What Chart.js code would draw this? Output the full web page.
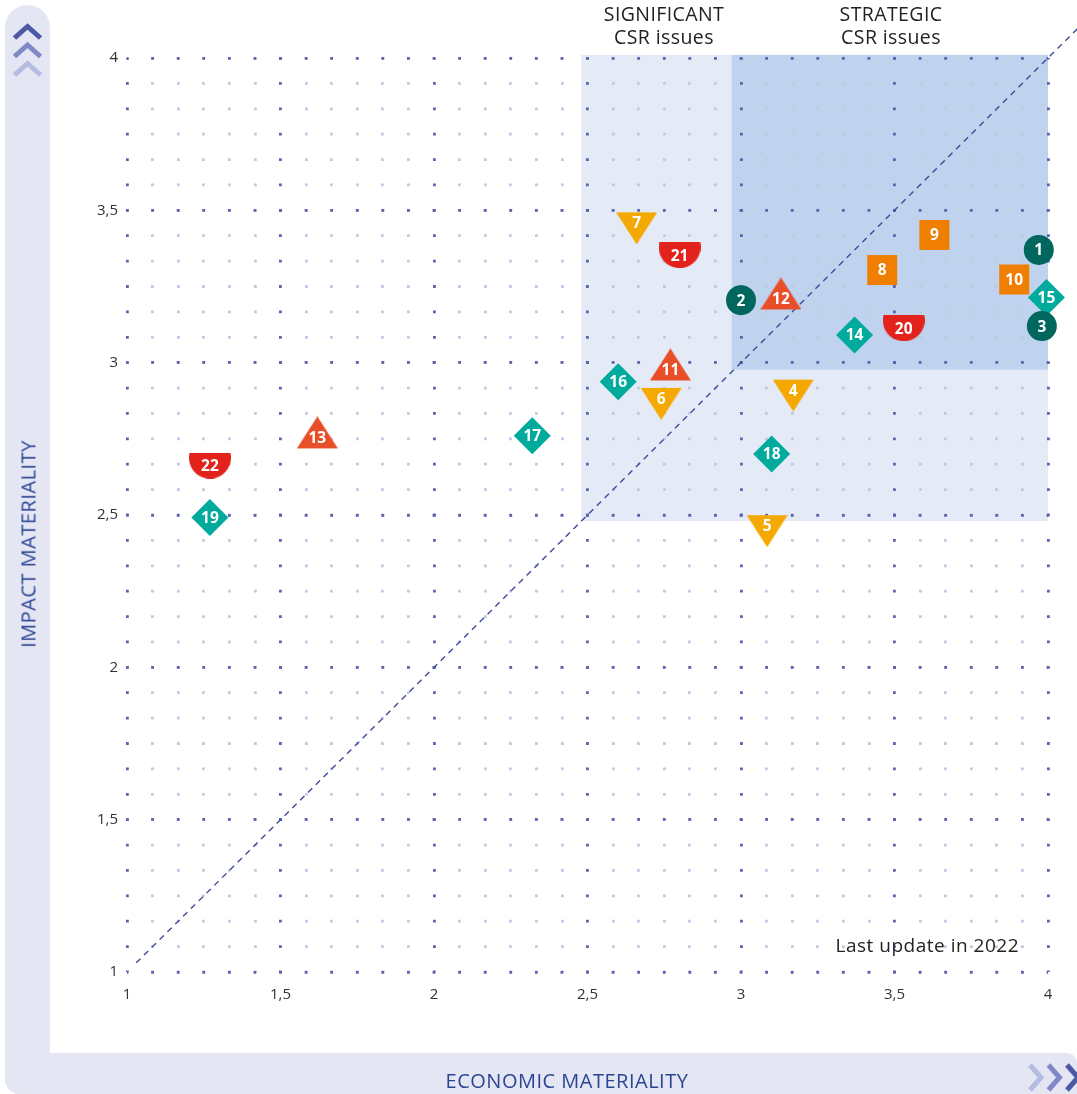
<!DOCTYPE html>
<html>
<head>
<meta charset="utf-8">
<title>CSR materiality matrix</title>
<script src="https://cdn.jsdelivr.net/npm/chart.js@4.4.1/dist/chart.umd.min.js"></script>
<style>
  html, body { margin: 0; padding: 0; background: #fff; }
  #wrap { position: relative; width: 1077px; height: 1094px; overflow: hidden; font-family: 'Open Sans', sans-serif; }
  .band { position: absolute; background: #e4e6f4; }
  #bandLeft { left: 5px; top: 5px; width: 45px; height: 1089px; border-radius: 23px 23px 0 15px; }
  #bandBottom { left: 5px; top: 1053px; width: 1072px; height: 41px; border-radius: 0 10px 0 15px; }
  #matrix { position: absolute; left: 0; top: 0; }
  .arrows { position: absolute; left: 0; top: 0; }
  .axisTitle { position: absolute; color: #2b4593; font-size: 20px; white-space: nowrap; letter-spacing: 0.5px; }
  #yTitle { left: 28px; top: 544px; transform: translate(-50%, -50%) rotate(-90deg); }
  #xTitle { left: 567px; top: 1080px; transform: translate(-50%, -50%); }
  .zoneLabel { position: absolute; top: 2px; transform: translateX(-50%); text-align: center; color: #222; font-size: 19.5px; letter-spacing: 0.4px; line-height: 23px; white-space: nowrap; }
  #lastUpdate { position: absolute; right: 58px; top: 932px; color: #222; font-size: 19px; letter-spacing: 0.5px; line-height: 26px; white-space: nowrap; }
</style>
</head>
<body>
<div id="wrap">
  <div class="band" id="bandLeft"></div>
  <div class="band" id="bandBottom"></div>
  <svg class="arrows" width="1077" height="1094" viewBox="0 0 1077 1094">
    <g fill="none" stroke-width="5" stroke-linejoin="miter">
      <polyline points="14.5,38 27.5,26.5 40.5,38" stroke="#4d59a7"/>
      <polyline points="14.5,56.5 27.5,45 40.5,56.5" stroke="#8088c6"/>
      <polyline points="14.5,75 27.5,63.5 40.5,75" stroke="#b6bbe0"/>
      <polyline points="1030,1065 1041,1077.5 1030,1090" stroke="#b6bbe0"/>
      <polyline points="1048.5,1065 1059.5,1077.5 1048.5,1090" stroke="#8088c6"/>
      <polyline points="1067,1065 1078,1077.5 1067,1090" stroke="#4d59a7"/>
    </g>
  </svg>
  <canvas id="matrix" width="1077" height="1094"></canvas>
  <div class="axisTitle" id="yTitle">IMPACT MATERIALITY</div>
  <div class="axisTitle" id="xTitle">ECONOMIC MATERIALITY</div>
  <div class="zoneLabel" style="left:664px">SIGNIFICANT<br>CSR issues</div>
  <div class="zoneLabel" style="left:891px">STRATEGIC<br>CSR issues</div>
  <div id="lastUpdate">Last update in 2022</div>
</div>
<script>
// issues
const issueIds = [1, 2, 3, 4, 5, 6, 7, 8, 9, 10, 11, 12, 13, 14, 15, 16, 17, 18, 19, 20, 21, 22];
const economic = [3.97, 3.00, 3.98, 3.17, 3.085, 2.74, 2.66, 3.46, 3.63, 3.89, 2.77, 3.13, 1.62, 3.37, 3.995, 2.60, 2.32, 3.10, 1.27, 3.53, 2.80, 1.27];
const impact = [3.37, 3.205, 3.12, 2.91, 2.465, 2.883, 3.459, 3.304, 3.419, 3.273, 2.976, 3.209, 2.753, 3.091, 3.214, 2.937, 2.760, 2.700, 2.492, 3.113, 3.353, 2.662];
const issueGroup = ['circle', 'circle', 'circle', 'down', 'down', 'down', 'down', 'square', 'square', 'square',
  'up', 'up', 'up', 'diamond', 'diamond', 'diamond', 'diamond', 'diamond', 'diamond', 'half', 'half', 'half'];

const tickLabels = ['1', '1,5', '2', '2,5', '3', '3,5', '4'];

// shaded zones: significant, strategic
const zoneXFrom = [2.48, 2.97];
const zoneYFrom = [2.48, 2.977];
const zoneXTo = [4, 4];
const zoneYTo = [4.01, 4.01];

const diagonal = [{ x: 1.03, y: 1.03 }, { x: 4.1, y: 4.1 }];

const DOT_DARK = '#5a63ad';
const DOT_LIGHT = '#c3c7e5';
const ZONE_COLORS = ['#e4ebf7', '#bfd3ee'];

function triangleCanvas(color, down) {
    const w = 41, h = 32, c = document.createElement('canvas');
    c.width = w;
    c.height = 43;
    const ctx = c.getContext('2d');
    ctx.fillStyle = color;
    ctx.beginPath();
    if (down) {
        ctx.moveTo(0, 11); ctx.lineTo(w, 11); ctx.lineTo(w / 2, 11 + h);
    } else {
        ctx.moveTo(w / 2, 0); ctx.lineTo(w, h); ctx.lineTo(0, h);
    }
    ctx.closePath();
    ctx.fill();
    return c;
}

function bowlCanvas(color) {
    const c = document.createElement('canvas');
    c.width = 42;
    c.height = 26;
    const ctx = c.getContext('2d');
    const a = Math.asin(5 / 21);
    ctx.fillStyle = color;
    ctx.beginPath();
    ctx.arc(21, 5, 21, -a, Math.PI + a, false);
    ctx.closePath();
    ctx.fill();
    return c;
}

const groupStyle = {
    circle: { color: '#00675f', pointStyle: 'circle', radius: 15 },
    down: { color: '#f5a800', pointStyle: triangleCanvas('#f5a800', true), radius: 20 },
    square: { color: '#f07e00', pointStyle: 'rect', radius: 21.2 },
    up: { color: '#e84f28', pointStyle: triangleCanvas('#e84f28', false), radius: 20 },
    diamond: { color: '#00aa9d', pointStyle: 'rectRot', radius: 18.5 },
    half: { color: '#e3231b', pointStyle: bowlCanvas('#e3231b'), radius: 20 }
};

const isHalf = v => Math.abs(v * 2 - Math.round(v * 2)) < 1e-6;

function tickText(value) {
    if (!isHalf(value)) return '';
    return tickLabels[Math.round((value - 1) * 2)] ?? '';
}

const markerSets = Object.keys(groupStyle).map(g => {
    const idx = issueIds.map((id, i) => i).filter(i => issueGroup[i] === g);
    const st = groupStyle[g];
    return {
        label: g,
        data: idx.map(i => ({ x: economic[i], y: impact[i] })),
        ids: idx.map(i => issueIds[i]),
        pointStyle: st.pointStyle,
        pointRadius: st.radius,
        pointHoverRadius: st.radius,
        backgroundColor: st.color,
        borderWidth: 0,
        clip: false,
        order: 1
    };
});

const zonesPlugin = {
    id: 'zones',
    beforeDraw(chart) {
        const { ctx, scales: { x, y } } = chart;
        ctx.save();
        zoneXFrom.forEach((x0, i) => {
            const left = x.getPixelForValue(x0), right = x.getPixelForValue(zoneXTo[i]);
            const top = y.getPixelForValue(zoneYTo[i]), bottom = y.getPixelForValue(zoneYFrom[i]);
            ctx.fillStyle = ZONE_COLORS[i];
            ctx.fillRect(left, top, right - left, bottom - top);
        });
        ctx.restore();
    }
};

const idLabelsPlugin = {
    id: 'idLabels',
    afterDatasetsDraw(chart) {
        const ctx = chart.ctx;
        ctx.save();
        ctx.fillStyle = '#ffffff';
        ctx.font = "bold 15.5px 'Open Sans', sans-serif";
        ctx.textAlign = 'center';
        ctx.textBaseline = 'middle';
        chart.data.datasets.forEach((ds, di) => {
            if (!ds.ids) return;
            chart.getDatasetMeta(di).data.forEach((pt, i) => {
                ctx.fillText(String(ds.ids[i]), pt.x, pt.y + 1);
            });
        });
        ctx.restore();
    }
};

// dot grid spacing: chart area is 921 x 914 px, dots every 1/12
const stepX = 921 / 36, stepY = 914 / 36, dot = 2.8;
const tickFont = { family: "'Open Sans', sans-serif", size: 15 };

new Chart(document.getElementById('matrix'), {
    type: 'scatter',
    data: {
        datasets: [
            ...markerSets,
            {
                type: 'line',
                label: 'diagonal',
                data: diagonal,
                borderColor: '#3d4b9b',
                borderWidth: 1.4,
                borderDash: [6, 5],
                pointRadius: 0,
                clip: false,
                order: 10
            }
        ]
    },
    options: {
        responsive: false,
        animation: false,
        events: [],
        layout: { padding: { left: 67, right: 29, top: 58, bottom: 82 } },
        plugins: {
            legend: { display: false },
            tooltip: { enabled: false }
        },
        scales: {
            x: {
                type: 'linear',
                min: 1,
                max: 4,
                afterFit: s => { s.height = 40; },
                ticks: {
                    stepSize: 1 / 12,
                    autoSkip: false,
                    maxRotation: 0,
                    padding: 14,
                    color: '#333',
                    font: tickFont,
                    callback: tickText
                },
                grid: {
                    drawTicks: false,
                    z: -1,
                    lineWidth: dot,
                    color: c => (c.tick && isHalf(c.tick.value)) ? DOT_DARK : DOT_LIGHT
                },
                border: { display: false, dash: [dot, stepY - dot], dashOffset: dot / 2 }
            },
            y: {
                type: 'linear',
                min: 1,
                max: 4,
                afterFit: s => { s.width = 60; },
                ticks: {
                    stepSize: 1 / 12,
                    autoSkip: false,
                    padding: 9,
                    color: '#333',
                    font: tickFont,
                    callback: tickText
                },
                grid: {
                    drawTicks: false,
                    color: DOT_DARK,
                    lineWidth: c => (c.tick && isHalf(c.tick.value)) ? dot : 0
                },
                border: { display: false, dash: [dot, stepX - dot], dashOffset: dot / 2 }
            }
        }
    },
    plugins: [zonesPlugin, idLabelsPlugin]
});
</script>
</body>
</html>
